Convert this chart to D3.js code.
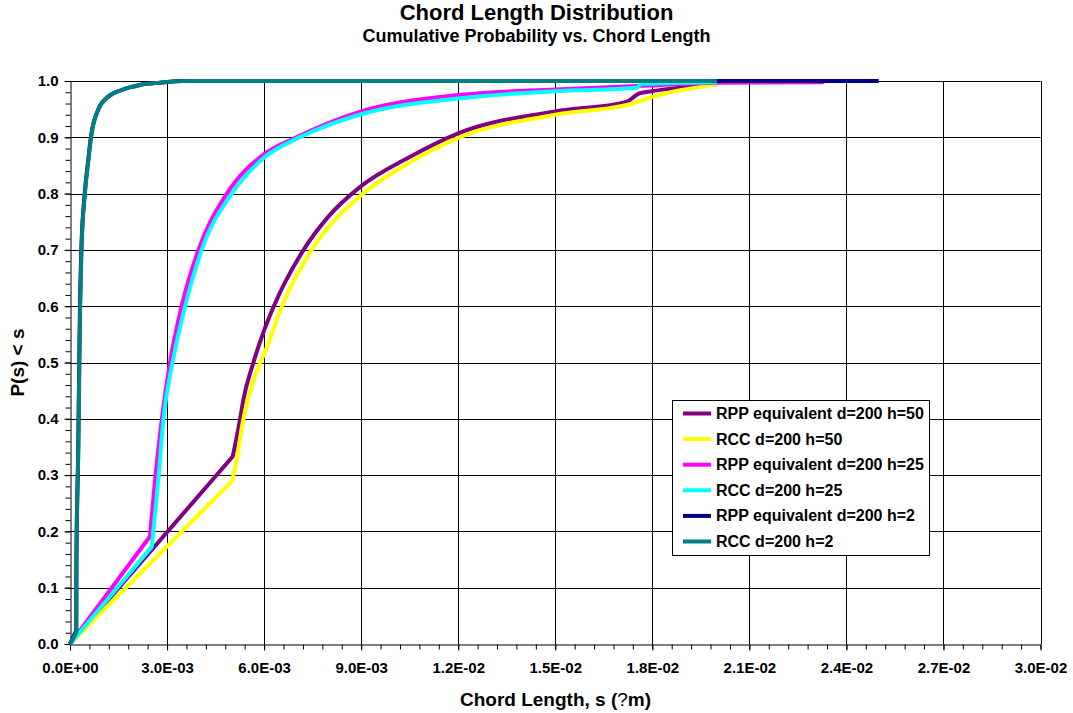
<!DOCTYPE html>
<html>
<head>
<meta charset="utf-8">
<title>Chord Length Distribution</title>
<script src="https://cdn.jsdelivr.net/npm/d3@7"></script>
<style>
  body { margin: 0; background: #fff; }
  svg text { font-family: Arial, "Liberation Sans", sans-serif; font-weight: bold; fill: #000; }
</style>
</head>
<body>
<svg id="chart" width="1073" height="713"></svg>
<script>
// values: chord length s and P(s) < s
// the first segment (origin -> kink) is straight, the rest is a smooth curve
const rpp50S = [0, 0.00503, 0.00526, 0.00536, 0.00567, 0.006, 0.0063, 0.00722, 0.008, 0.00897, 0.0105, 0.012, 0.015, 0.0172, 0.0176, 0.018, 0.02];
const rpp50P = [0, 0.333, 0.40, 0.434, 0.50, 0.557, 0.60, 0.70, 0.76, 0.812, 0.865, 0.907, 0.946, 0.963, 0.978, 0.982, 0.994];

const rcc50S = [0, 0.005, 0.0051, 0.00536, 0.00588, 0.006, 0.00655, 0.00747, 0.009, 0.0105, 0.012, 0.015, 0.0174, 0.0178, 0.02];
const rcc50P = [0, 0.289, 0.312, 0.40, 0.50, 0.515, 0.60, 0.70, 0.797, 0.855, 0.899, 0.94, 0.96, 0.968, 0.994];

const rpp25S = [0, 0.00247, 0.00263, 0.00284, 0.00309, 0.00345, 0.00397, 0.00485, 0.006, 0.007, 0.009, 0.012, 0.015, 0.0179, 0.02, 0.0233];
const rpp25P = [0, 0.191, 0.292, 0.40, 0.50, 0.60, 0.70, 0.80, 0.87, 0.90, 0.946, 0.975, 0.985, 0.992, 0.997, 0.998];

const rcc25S = [0, 0.00253, 0.00273, 0.00289, 0.00317, 0.00356, 0.00407, 0.005, 0.006, 0.0071, 0.009, 0.012, 0.015, 0.0175, 0.0177, 0.02];
const rcc25P = [0, 0.173, 0.292, 0.40, 0.50, 0.60, 0.70, 0.80, 0.864, 0.90, 0.941, 0.969, 0.982, 0.988, 0.995, 0.998];

const rpp2S = [0, 0.000192, 0.000198, 0.000255, 0.000285, 0.000308, 0.00035, 0.000455, 0.000565, 0.000645, 0.000875, 0.00118, 0.0016, 0.00216, 0.00278, 0.0035, 0.02, 0.025];
const rpp2P = [0, 0.024, 0.15, 0.35, 0.50, 0.60, 0.70, 0.80, 0.86, 0.90, 0.95, 0.972, 0.984, 0.993, 0.997, 1.0, 1.0, 1.0];

const rcc2S = [0, 0.000195, 0.0002, 0.000257, 0.000288, 0.000315, 0.000355, 0.00046, 0.00057, 0.00065, 0.00088, 0.00118, 0.0016, 0.00216, 0.00278, 0.0035, 0.02];
const rcc2P = [0, 0.02, 0.15, 0.35, 0.50, 0.60, 0.70, 0.80, 0.86, 0.90, 0.95, 0.972, 0.984, 0.993, 0.997, 1.0, 1.0];

const seriesNames = ["RPP equivalent d=200 h=50", "RCC d=200 h=50", "RPP equivalent d=200 h=25",
                     "RCC d=200 h=25", "RPP equivalent d=200 h=2", "RCC d=200 h=2"];
const seriesColors = ["#800080", "#ffff00", "#ff00ff", "#00ffff", "#000080", "#008080"];
const seriesS = [rpp50S, rcc50S, rpp25S, rcc25S, rpp2S, rcc2S];
const seriesP = [rpp50P, rcc50P, rpp25P, rcc25P, rpp2P, rcc2P];

const xTicks = d3.range(0, 11).map(i => i * 0.003);
const xMinor = d3.range(0, 51).map(i => i * 0.0006);
const yTicks = d3.range(0, 11).map(i => i / 10);
const yMinor = d3.range(0, 51).map(i => i / 50);

const svg = d3.select("#chart");
const x = d3.scaleLinear().domain([0, 0.03]).range([70, 1040.5]);
const y = d3.scaleLinear().domain([0, 1]).range([644, 81]);

function sci(v) {
  if (Math.abs(v) < 1e-12) return "0.0E+00";
  const e = Math.floor(Math.log10(Math.abs(v)) + 1e-9);
  const m = v / Math.pow(10, e);
  return m.toFixed(1) + "E" + (e < 0 ? "-" : "+") + String(Math.abs(e)).padStart(2, "0");
}

// titles
svg.append("text").attr("x", 536.5).attr("y", 20).attr("text-anchor", "middle")
  .style("font-size", "22px").text("Chord Length Distribution");
svg.append("text").attr("x", 536.5).attr("y", 42).attr("text-anchor", "middle")
  .style("font-size", "18px").text("Cumulative Probability vs. Chord Length");

// grid
svg.append("g").selectAll("line").data(xTicks.slice(1)).join("line")
  .attr("x1", d => Math.round(x(d)) + 0.5).attr("x2", d => Math.round(x(d)) + 0.5)
  .attr("y1", y(0)).attr("y2", y(1))
  .attr("stroke", "#000").attr("stroke-width", 1);
svg.append("g").selectAll("line").data(yTicks.slice(1)).join("line")
  .attr("x1", x(0)).attr("x2", x(0.03))
  .attr("y1", d => Math.round(y(d)) + 0.5).attr("y2", d => Math.round(y(d)) + 0.5)
  .attr("stroke", "#000").attr("stroke-width", 1);

// minor ticks
svg.append("g").attr("transform", "translate(0,644.5)")
  .call(d3.axisBottom(x).tickValues(xMinor).tickSize(5).tickFormat(""))
  .call(g => g.select(".domain").remove());
svg.append("g").attr("transform", "translate(70.5,0)")
  .call(d3.axisLeft(y).tickValues(yMinor).tickSize(5).tickFormat(""))
  .call(g => g.select(".domain").remove());

// axes
const xAxis = svg.append("g").attr("transform", "translate(0,644.5)")
  .call(d3.axisBottom(x).tickValues(xTicks).tickSize(6).tickSizeOuter(0).tickPadding(12).tickFormat(sci));
const yAxis = svg.append("g").attr("transform", "translate(70.5,0)")
  .call(d3.axisLeft(y).tickValues(yTicks).tickSize(6).tickSizeOuter(0).tickPadding(6).tickFormat(d3.format(".1f")));
[xAxis, yAxis].forEach(a => {
  a.selectAll("text").style("font-size", "15px").style("font-family", "Arial, 'Liberation Sans', sans-serif").style("font-weight", "bold");
  a.select(".domain").attr("stroke", "#000");
  a.selectAll(".tick line").attr("stroke", "#000");
});

// axis titles
const xt = svg.append("text").attr("x", 555.5).attr("y", 706).attr("text-anchor", "middle")
  .style("font-size", "19px");
xt.append("tspan").text("Chord Length, s (");
xt.append("tspan").style("font-weight", "normal").text("?");
xt.append("tspan").text("m)");
svg.append("text").attr("transform", "translate(24,362.5) rotate(-90)").attr("text-anchor", "middle")
  .style("font-size", "19px").text("P(s) < s");

// curves: straight first segment, then a smooth monotone curve
const straight = d3.line().x(d => x(d[0])).y(d => y(d[1]));
const smooth = d3.line().x(d => x(d[0])).y(d => y(d[1])).curve(d3.curveMonotoneX);
const plot = svg.append("g");
seriesNames.forEach((name, i) => {
  const pts = seriesS[i].map((s, j) => [s, seriesP[i][j]]);
  const d = straight(pts.slice(0, 2)) + smooth(pts.slice(1)).replace(/^M/, "L");
  plot.append("path")
    .attr("d", d)
    .attr("fill", "none")
    .attr("stroke", seriesColors[i])
    .attr("stroke-width", 4)
    .attr("stroke-linejoin", "round");
});

// legend
const legend = svg.append("g");
legend.append("rect").attr("x", 672.5).attr("y", 400.5).attr("width", 257).attr("height", 155)
  .attr("fill", "#fff").attr("stroke", "#000").attr("stroke-width", 1);
seriesNames.forEach((name, i) => {
  const ly = 413.5 + i * 25.6;
  legend.append("line").attr("x1", 683).attr("x2", 711).attr("y1", ly).attr("y2", ly)
    .attr("stroke", seriesColors[i]).attr("stroke-width", 4);
  legend.append("text").attr("x", 716).attr("y", ly + 5.5).style("font-size", "16px").text(name);
});
</script>
</body>
</html>
